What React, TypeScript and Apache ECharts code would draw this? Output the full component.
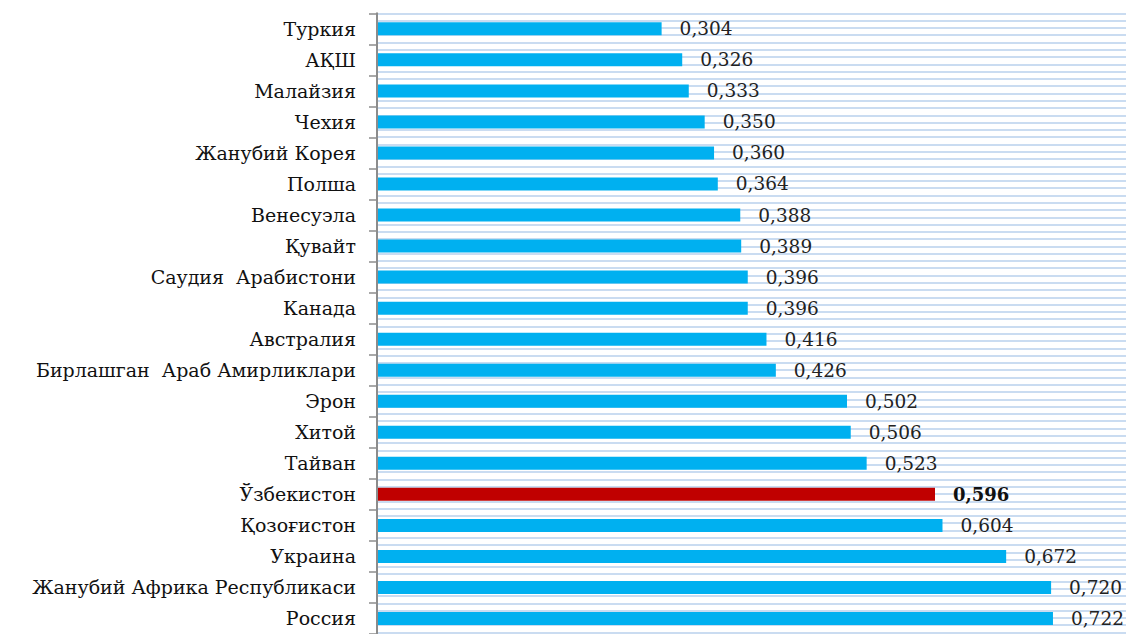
import React, { useEffect, useRef } from "react";
import * as echarts from "echarts";

const categories: string[] = [
  "Туркия",
  "АҚШ",
  "Малайзия",
  "Чехия",
  "Жанубий Корея",
  "Полша",
  "Венесуэла",
  "Қувайт",
  "Саудия  Арабистони",
  "Канада",
  "Австралия",
  "Бирлашган  Араб Амирликлари",
  "Эрон",
  "Хитой",
  "Тайван",
  "Ўзбекистон",
  "Қозоғистон",
  "Украина",
  "Жанубий Африка Республикаси",
  "Россия",
];

const values: number[] = [
  0.304, 0.326, 0.333, 0.35, 0.36, 0.364, 0.388, 0.389, 0.396, 0.396, 0.416,
  0.426, 0.502, 0.506, 0.523, 0.596, 0.604, 0.672, 0.72, 0.722,
];

const highlighted = "Ўзбекистон";

const SERIF = "'DejaVu Serif', 'Liberation Serif', serif";

export default function App() {
  const ref = useRef<HTMLDivElement>(null);

  useEffect(() => {
    if (!ref.current) return;
    const chart = echarts.init(ref.current, undefined, { renderer: "svg" });
    const plotTop = 13.3;
    const band = 31.23;
    const plotH = band * categories.length;

    const data = values.map((v, i) => {
      if (categories[i] === highlighted) {
        return {
          value: v,
          itemStyle: { color: "#C00000" },
          label: { fontWeight: "bold", fontSize: 18, color: "#111" },
        };
      }
      return { value: v };
    });

    chart.setOption({
      animation: false,
      backgroundColor: "#ffffff",
      grid: {
        left: 377,
        right: 0,
        top: plotTop,
        bottom: 634 - plotTop - plotH,
        containLabel: false,
      },
      xAxis: {
        type: "value",
        min: 0,
        max: 0.8,
        show: false,
      },
      yAxis: [
        {
          type: "category",
          data: categories,
          inverse: true,
          axisLine: { show: true, lineStyle: { color: "#8c8c8c", width: 2 } },
          axisTick: { show: true, length: 8, lineStyle: { color: "#8c8c8c", width: 1.5 } },
          axisLabel: {
            margin: 21,
            fontFamily: SERIF,
            fontSize: 19,
            color: "#111",
          },
          splitLine: { show: false },
          z: 5,
        },
        {
          type: "value",
          inverse: true,
          min: 0,
          max: plotH,
          interval: 7.33,
          position: "right",
          axisLine: { show: false },
          axisTick: { show: false },
          axisLabel: { show: false },
          splitLine: { show: true, lineStyle: { color: "#cadcf1", width: 2 } },
        },
      ],
      series: [
        {
          type: "bar",
          yAxisIndex: 0,
          data,
          barWidth: 13,
          itemStyle: { color: "#00B0F0" },
          label: {
            show: true,
            position: "right",
            distance: 18,
            fontFamily: SERIF,
            fontSize: 18.5,
            color: "#222",
            formatter: (p: any) => Number(p.value).toFixed(3).replace(".", ","),
          },
        },
      ],
    });

    return () => chart.dispose();
  }, []);

  return (
    <div
      ref={ref}
      style={{
        position: "absolute",
        left: 0,
        top: 0,
        width: 1126,
        height: 634,
        background: "#fff",
      }}
    />
  );
}
